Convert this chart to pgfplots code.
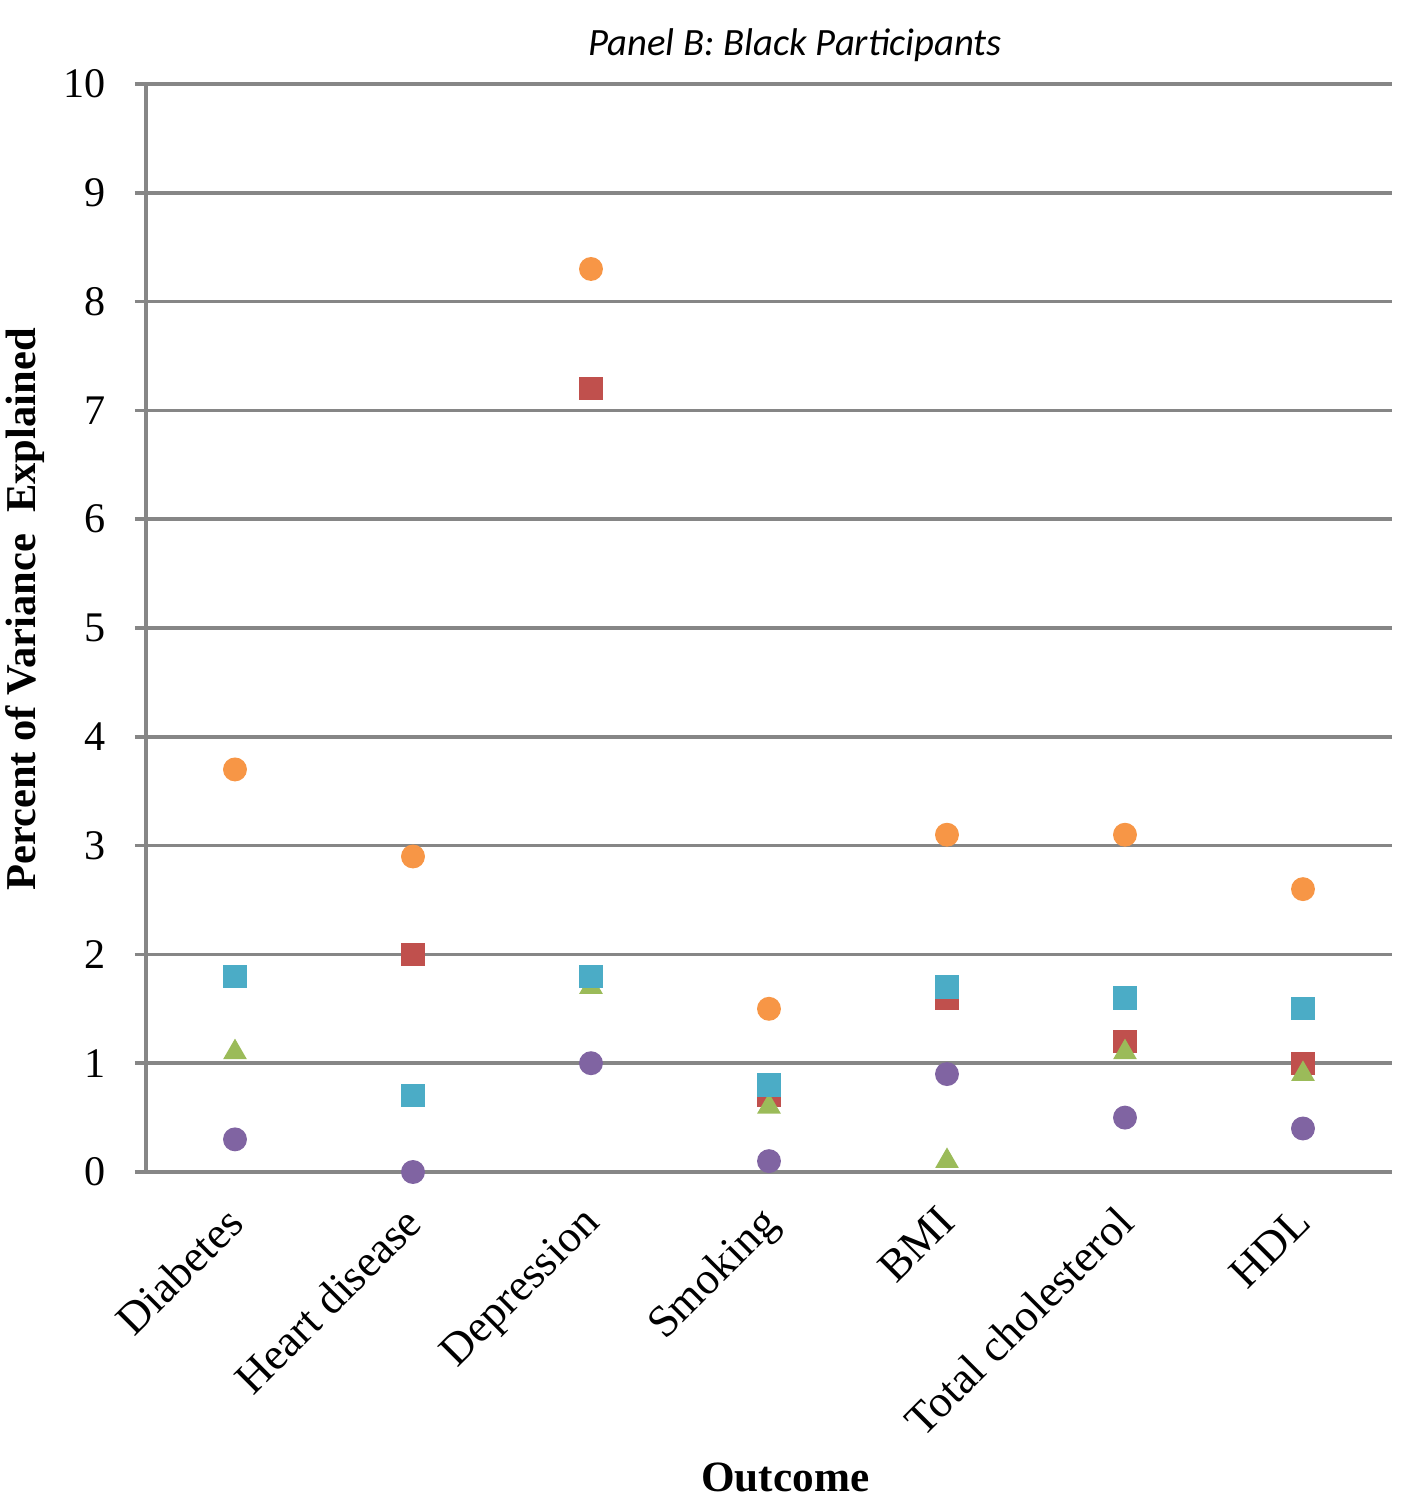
\documentclass[border=0pt]{standalone}
\usepackage{fontspec}
\setmainfont{Liberation Serif}
\newfontfamily\carlito{Carlito}
\usepackage{pgfplots}
\pgfplotsset{compat=1.18}
\definecolor{cRed}{HTML}{C0504D}
\definecolor{cGreen}{HTML}{9BBB59}
\definecolor{cPurple}{HTML}{8064A2}
\definecolor{cCyan}{HTML}{4BACC6}
\definecolor{cOrange}{HTML}{F79646}
\definecolor{gridgray}{RGB}{134,134,134}
\begin{document}
\begin{tikzpicture}
\useasboundingbox (-1.46,-3.28) rectangle (12.57,11.72);
\begin{axis}[
  at={(0,0)}, anchor=south west,
  scale only axis, width=12.46cm, height=10.88cm,
  xmin=-0.5, xmax=6.5, ymin=0, ymax=10,
  clip=false,
  axis lines*=left,
  axis line style={gridgray, line width=1pt},
  ymajorgrids, grid style={gridgray, line width=1pt},
  ytick={0,1,...,10},
  tick align=outside,
  major tick length=0.11cm,
  tick style={gridgray, line width=1pt},
  xtick={0,1,...,6},
  xticklabels={Diabetes,Heart disease,Depression,Smoking,BMI,Total cholesterol,HDL},
  x tick style={draw=none},
  extra x ticks={-0.5,0.5,1.5,2.5,3.5,4.5,5.5,6.5},
  extra x tick labels={},
  extra x tick style={grid=none, tick style={gridgray, line width=1pt, draw=gridgray}},
  /pgf/number format/assume math mode=true,
  yticklabel style={font=\fontsize{12}{14}\selectfont, xshift=-0.17cm},
  xticklabel style={font=\fontsize{12.8}{15}\selectfont, rotate=45, anchor=north east, inner sep=1pt, xshift=-0.184cm, yshift=-0.028cm},
  xlabel={Outcome},
  ylabel={Percent of Variance\ \ Explained},
  xlabel style={font=\fontsize{12.3}{14}\selectfont\bfseries, at={(axis description cs:0.513,-0.281)}, anchor=center},
  ylabel style={font=\fontsize{12.1}{14}\selectfont\bfseries, at={(axis description cs:-0.097,0.517)}, anchor=center, rotate=0},
  every axis plot/.append style={only marks},
]
\addplot[mark=square*, mark size=3.1pt, mark options={fill=cRed, draw=cRed}] coordinates {
  (0,1.8) (1,2.0) (2,7.2) (3,0.7) (4,1.6) (5,1.2) (6,1.0)};
\addplot[mark=triangle*, mark size=3.5pt, mark options={fill=cGreen, draw=cGreen}] coordinates {
  (0,1.1) (2,1.7) (3,0.6) (4,0.1) (5,1.1) (6,0.9)};
\addplot[mark=*, mark size=3.2pt, mark options={fill=cPurple, draw=cPurple}] coordinates {
  (0,0.3) (1,0.0) (2,1.0) (3,0.1) (4,0.9) (5,0.5) (6,0.4)};
\addplot[mark=square*, mark size=3.1pt, mark options={fill=cCyan, draw=cCyan}] coordinates {
  (0,1.8) (1,0.7) (2,1.8) (3,0.8) (4,1.7) (5,1.6) (6,1.5)};
\addplot[mark=*, mark size=3.2pt, mark options={fill=cOrange, draw=cOrange}] coordinates {
  (0,3.7) (1,2.9) (2,8.3) (3,1.5) (4,3.1) (5,3.1) (6,2.6)};
\node[font=\carlito\itshape\fontsize{11}{13}\selectfont, anchor=center] at (axis description cs:0.521,1.036) {Panel B: Black Participants};
\end{axis}
\end{tikzpicture}
\end{document}
